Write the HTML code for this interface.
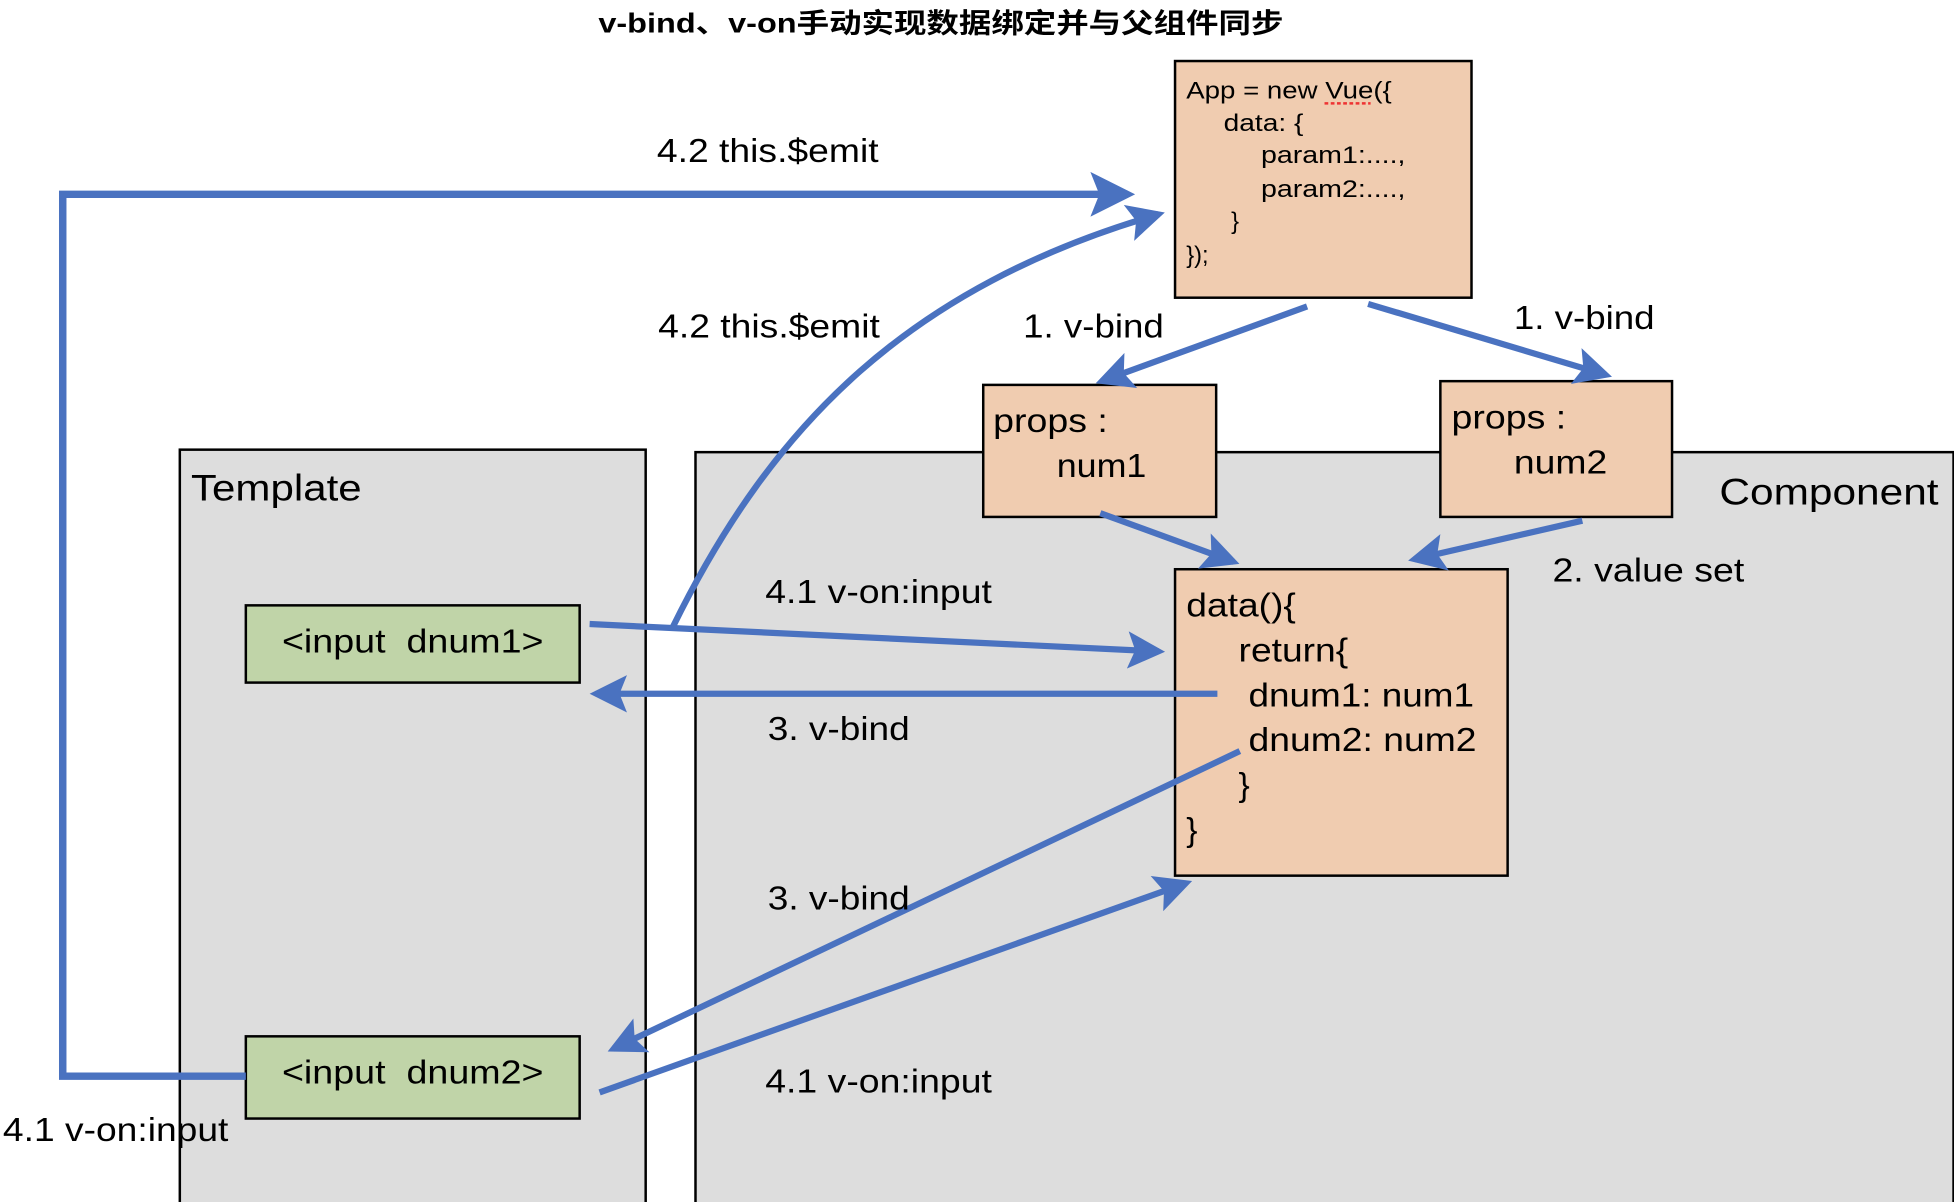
<!DOCTYPE html>
<html><head><meta charset="utf-8"><style>
html,body{margin:0;padding:0;background:#fff;}
svg{display:block;}
text{font-family:"Liberation Sans","Noto Sans CJK SC",sans-serif;fill:#000;}
</style></head><body>
<svg width="1954" height="1202" viewBox="0 0 1568 965" xmlns="http://www.w3.org/2000/svg">
<defs>
<marker id="a" markerWidth="6" markerHeight="6" refX="5" refY="3" orient="auto" markerUnits="strokeWidth">
<path d="M0,0 L6,3 L0,6 L1.2,3 Z" fill="#4a72c0"/>
</marker>
</defs>
<text x="480" y="26" font-size="22" font-weight="bold" textLength="550" lengthAdjust="spacingAndGlyphs">v-bind、v-on手动实现数据绑定并与父组件同步</text>

<rect x="144" y="361" width="374" height="610" fill="#dddddd" stroke="#000" stroke-width="2"/>
<rect x="558" y="363" width="1010" height="610" fill="#dddddd" stroke="#000" stroke-width="2"/>
<text x="153" y="402" font-size="30" textLength="137" lengthAdjust="spacingAndGlyphs">Template</text>
<text x="1380" y="405" font-size="30" textLength="176" lengthAdjust="spacingAndGlyphs">Component</text>

<rect x="943" y="49" width="238" height="190" fill="#f0ccb0" stroke="#000" stroke-width="2"/>
<g font-size="19">
<text x="952" y="79" textLength="165" lengthAdjust="spacingAndGlyphs">App = new Vue({</text>
<text x="982" y="105" textLength="64" lengthAdjust="spacingAndGlyphs">data: {</text>
<text x="1012" y="131" textLength="116" lengthAdjust="spacingAndGlyphs">param1:....,</text>
<text x="1012" y="158" textLength="116" lengthAdjust="spacingAndGlyphs">param2:....,</text>
<text x="988" y="184">}</text>
<text x="952" y="211">});</text>
</g>
<line x1="1063" y1="83" x2="1100" y2="83" stroke="#e33" stroke-width="2" stroke-dasharray="3,2"/>

<rect x="789" y="309" width="187" height="106" fill="#f0ccb0" stroke="#000" stroke-width="2"/>
<text x="797" y="347" font-size="27" textLength="92" lengthAdjust="spacingAndGlyphs">props :</text>
<text x="848" y="383" font-size="27" textLength="72" lengthAdjust="spacingAndGlyphs">num1</text>
<rect x="1156" y="306" width="186" height="109" fill="#f0ccb0" stroke="#000" stroke-width="2"/>
<text x="1165" y="344" font-size="27" textLength="92" lengthAdjust="spacingAndGlyphs">props :</text>
<text x="1215" y="380" font-size="27" textLength="75" lengthAdjust="spacingAndGlyphs">num2</text>

<rect x="943" y="457" width="267" height="246" fill="#f0ccb0" stroke="#000" stroke-width="2"/>
<g font-size="27">
<text x="952" y="495" textLength="88" lengthAdjust="spacingAndGlyphs">data(){</text>
<text x="994" y="531" textLength="88" lengthAdjust="spacingAndGlyphs">return{</text>
<text x="1002" y="567" textLength="181" lengthAdjust="spacingAndGlyphs">dnum1: num1</text>
<text x="1002" y="603" textLength="183" lengthAdjust="spacingAndGlyphs">dnum2: num2</text>
<text x="994" y="639">}</text>
<text x="952" y="675">}</text>
</g>

<rect x="197" y="486" width="268" height="62" fill="#c0d4a8" stroke="#000" stroke-width="2"/>
<text x="226" y="524" font-size="27" textLength="210" lengthAdjust="spacingAndGlyphs" xml:space="preserve">&lt;input  dnum1&gt;</text>
<rect x="197" y="832" width="268" height="66" fill="#c0d4a8" stroke="#000" stroke-width="2"/>
<text x="226" y="870" font-size="27" textLength="210" lengthAdjust="spacingAndGlyphs" xml:space="preserve">&lt;input  dnum2&gt;</text>

<g stroke="#4a72c0" fill="none" stroke-width="5">
<polyline points="197,864 50,864 50,156 905,156" stroke-width="6" marker-end="url(#a)"/>
<path d="M540,503 C620,340 730,230 930,172" marker-end="url(#a)"/>
<line x1="1049" y1="246" x2="884" y2="306" marker-end="url(#a)"/>
<line x1="1098" y1="244" x2="1289" y2="301" marker-end="url(#a)"/>
<line x1="883" y1="412" x2="990" y2="451" marker-end="url(#a)"/>
<line x1="1270" y1="418" x2="1135" y2="449" marker-end="url(#a)"/>
<line x1="473" y1="501" x2="930" y2="523" marker-end="url(#a)"/>
<line x1="977" y1="557" x2="478" y2="557" marker-end="url(#a)"/>
<line x1="995" y1="603" x2="492" y2="842" marker-end="url(#a)"/>
<line x1="481" y1="877" x2="952" y2="709" marker-end="url(#a)"/>
</g>

<g font-size="27">
<text x="527" y="130" textLength="178" lengthAdjust="spacingAndGlyphs">4.2 this.$emit</text>
<text x="528" y="271" textLength="178" lengthAdjust="spacingAndGlyphs">4.2 this.$emit</text>
<text x="821" y="271" textLength="113" lengthAdjust="spacingAndGlyphs">1. v-bind</text>
<text x="1215" y="264" textLength="113" lengthAdjust="spacingAndGlyphs">1. v-bind</text>
<text x="1246" y="467" textLength="154" lengthAdjust="spacingAndGlyphs">2. value set</text>
<text x="614" y="484" textLength="182" lengthAdjust="spacingAndGlyphs">4.1 v-on:input</text>
<text x="616" y="594" textLength="114" lengthAdjust="spacingAndGlyphs">3. v-bind</text>
<text x="616" y="730" textLength="114" lengthAdjust="spacingAndGlyphs">3. v-bind</text>
<text x="614" y="877" textLength="182" lengthAdjust="spacingAndGlyphs">4.1 v-on:input</text>
<text x="2" y="916" textLength="181" lengthAdjust="spacingAndGlyphs">4.1 v-on:input</text>
</g>
</svg>
</body></html>
